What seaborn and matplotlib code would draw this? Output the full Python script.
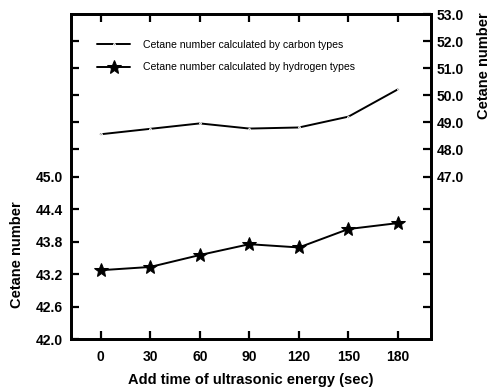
import matplotlib
matplotlib.use("Agg")
import matplotlib.pyplot as plt
import seaborn as sns
import pandas as pd

# Data
time_sec = [0, 30, 60, 90, 120, 150, 180]
cn_carbon = [48.56, 48.76, 48.96, 48.77, 48.81, 49.21, 50.22]
cn_hydrogen = [43.27, 43.33, 43.55, 43.75, 43.69, 44.03, 44.14]

left_ticks = [42.0, 42.6, 43.2, 43.8, 44.4, 45.0, 45.5, 46.0, 46.5, 47.0, 47.5]
left_labels = ["42.0", "42.6", "43.2", "43.8", "44.4", "45.0", "", "", "", "", ""]
right_ticks = [42.2, 43.4, 44.6, 45.8, 47.0, 48.0, 49.0, 50.0, 51.0, 52.0, 53.0]
right_labels = ["", "", "", "", "47.0", "48.0", "49.0", "50.0", "51.0", "52.0", "53.0"]
x_ticks = [0, 30, 60, 90, 120, 150, 180]

label_carbon = "Cetane number calculated by carbon types"
label_hydrogen = "Cetane number calculated by hydrogen types"

sns.set_theme(style="ticks")
plt.rcParams['font.family'] = ['Liberation Sans', 'DejaVu Sans']
plt.rcParams.update({"text.color": "black", "axes.labelcolor": "black",
                     "xtick.color": "black", "ytick.color": "black",
                     "axes.edgecolor": "black"})

df_c = pd.DataFrame({"t": time_sec, "cn": cn_carbon})
df_h = pd.DataFrame({"t": time_sec, "cn": cn_hydrogen})

fig = plt.figure(figsize=(4.9, 3.89), dpi=100)
ax = fig.add_axes([71/490, 50/389, 360/490, 325/389])
ax2 = ax.twinx()

sns.lineplot(data=df_h, x="t", y="cn", ax=ax, color="black", marker="*",
             markersize=10, linewidth=1.4, markeredgecolor="black",
             label=label_hydrogen, legend=False)
sns.lineplot(data=df_c, x="t", y="cn", ax=ax2, color="black", marker=".",
             markersize=2.5, linewidth=1.4, label=label_carbon, legend=False)

ax.set_xlim(-18, 200)
ax.set_ylim(42.0, 48.0)
ax2.set_ylim(41.0, 53.0)

ax.set_xticks(x_ticks)
ax.set_xticklabels([str(v) for v in x_ticks], fontsize=10, fontweight="bold")
ax.set_yticks(left_ticks)
ax.set_yticklabels(left_labels, fontsize=10, fontweight="bold")
ax2.set_yticks(right_ticks)
ax2.set_yticklabels(right_labels, fontsize=10, fontweight="bold")

ax.tick_params(axis="both", direction="in", length=6, width=1.6, colors="black",
               top=True, pad=6)
ax.tick_params(axis="x", pad=8)
ax2.tick_params(axis="y", direction="in", length=6, width=1.6, colors="black", pad=4)

for a in (ax, ax2):
    for s in a.spines.values():
        s.set_linewidth(2.0)
        s.set_color("black")
        s.set_visible(True)

ax.set_xlabel("Add time of ultrasonic energy (sec)", fontsize=10.5, fontweight="bold",
              color="black")
ax.xaxis.set_label_coords(0.5, -0.105)
ax.set_ylabel("Cetane number", fontsize=10.5, fontweight="bold", color="black")
ax.yaxis.set_label_coords(-0.13, 0.26)
ax2.set_ylabel("Cetane number", fontsize=10.5, fontweight="bold", color="black")
ax2.yaxis.set_label_coords(1.128, 0.84)

h1, l1 = ax2.get_legend_handles_labels()
h2, l2 = ax.get_legend_handles_labels()
leg = ax.legend(h1 + h2, l1 + l2, loc="upper left", bbox_to_anchor=(0.045, 0.95),
                frameon=False, fontsize=7.6, handlelength=3.2, labelspacing=1.2,
                handletextpad=1.2)
for t in leg.get_texts():
    t.set_color("black")

ax.grid(False)
ax2.grid(False)

fig.savefig("out.png", dpi=100)
